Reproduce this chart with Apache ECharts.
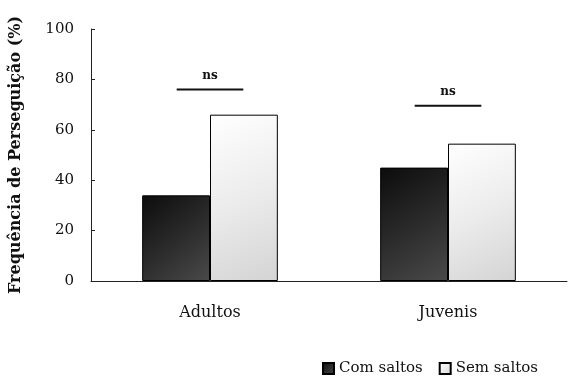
<!DOCTYPE html>
<html>
<head>
<meta charset="utf-8">
<script src="https://cdn.jsdelivr.net/npm/echarts@6/dist/echarts.min.js"></script>
<style>
  html, body { margin: 0; padding: 0; background: #fff; }
  #chart { width: 568px; height: 377px; }
</style>
</head>
<body>
<div id="chart"></div>
<script>
// Pursuit frequency by age group, with and without jumps
const categories = ['Adultos', 'Juvenis'];
const comSaltos = [34, 45];
const semSaltos = [66, 54.5];
const seriesNames = ['Com saltos', 'Sem saltos'];
// "ns" brackets: height (in %) for each group
const nsLevels = [76, 69.5];
const nsLabel = 'ns';
const yTicks = [0, 20, 40, 60, 80, 100];

const FONT = 'DejaVu Serif';

const darkFill = new echarts.graphic.LinearGradient(0, 0, 1, 1, [
  { offset: 0, color: '#0c0c0c' },
  { offset: 0.5, color: '#2a2a2a' },
  { offset: 1, color: '#4a4a4a' }
]);
const lightFill = new echarts.graphic.LinearGradient(0, 0, 1, 1, [
  { offset: 0, color: '#ffffff' },
  { offset: 0.5, color: '#ececec' },
  { offset: 1, color: '#d4d4d4' }
]);

const chart = echarts.init(document.getElementById('chart'));
chart.setOption({
  animation: false,
  backgroundColor: '#fff',
  grid: { left: 90, right: 1, top: 29, bottom: 96 },
  legend: {
    left: 317,
    top: 356,
    itemWidth: 11,
    itemHeight: 11,
    itemGap: 16,
    icon: 'rect',
    textStyle: { fontFamily: FONT, fontSize: 15, color: '#111' },
    data: seriesNames
  },
  xAxis: {
    type: 'category',
    data: categories,
    axisLine: { lineStyle: { color: '#222', width: 1 } },
    axisTick: { show: false },
    axisLabel: { fontFamily: FONT, fontSize: 16, color: '#111', margin: 24 }
  },
  yAxis: {
    type: 'value',
    min: yTicks[0],
    max: yTicks[yTicks.length - 1],
    interval: 20,
    name: 'Frequência de Perseguição (%)',
    nameLocation: 'middle',
    nameGap: 67,
    nameTextStyle: { fontFamily: FONT, fontSize: 16, fontWeight: 'bold', color: '#111' },
    axisLine: { show: true, lineStyle: { color: '#222', width: 1 } },
    axisTick: { show: true, inside: true, length: 4, lineStyle: { color: '#222' } },
    splitLine: { show: false },
    axisLabel: { fontFamily: FONT, fontSize: 15, color: '#111', margin: 17 }
  },
  series: [
    {
      name: seriesNames[0],
      type: 'bar',
      data: comSaltos,
      barWidth: '28.5%',
      barGap: '0%',
      itemStyle: { color: darkFill, borderColor: '#000', borderWidth: 1 }
    },
    {
      name: seriesNames[1],
      type: 'bar',
      data: semSaltos,
      barWidth: '28.5%',
      itemStyle: { color: lightFill, borderColor: '#000', borderWidth: 1 }
    },
    {
      // significance markers above each group
      type: 'custom',
      silent: true,
      legendHoverLink: false,
      data: nsLevels.map((v, i) => [i, v]),
      renderItem: function (params, api) {
        const p = api.coord([api.value(0), api.value(1)]);
        const half = api.size([1, 0])[0] * 0.14;
        return {
          type: 'group',
          children: [
            {
              type: 'line',
              shape: { x1: p[0] - half, y1: p[1], x2: p[0] + half, y2: p[1] },
              style: { stroke: '#111', lineWidth: 2 }
            },
            {
              type: 'text',
              style: {
                x: p[0], y: p[1] - 8,
                text: nsLabel,
                textAlign: 'center',
                textVerticalAlign: 'bottom',
                font: 'bold 12px "' + FONT + '"',
                fill: '#111'
              }
            }
          ]
        };
      }
    }
  ]
});
</script>
</body>
</html>
